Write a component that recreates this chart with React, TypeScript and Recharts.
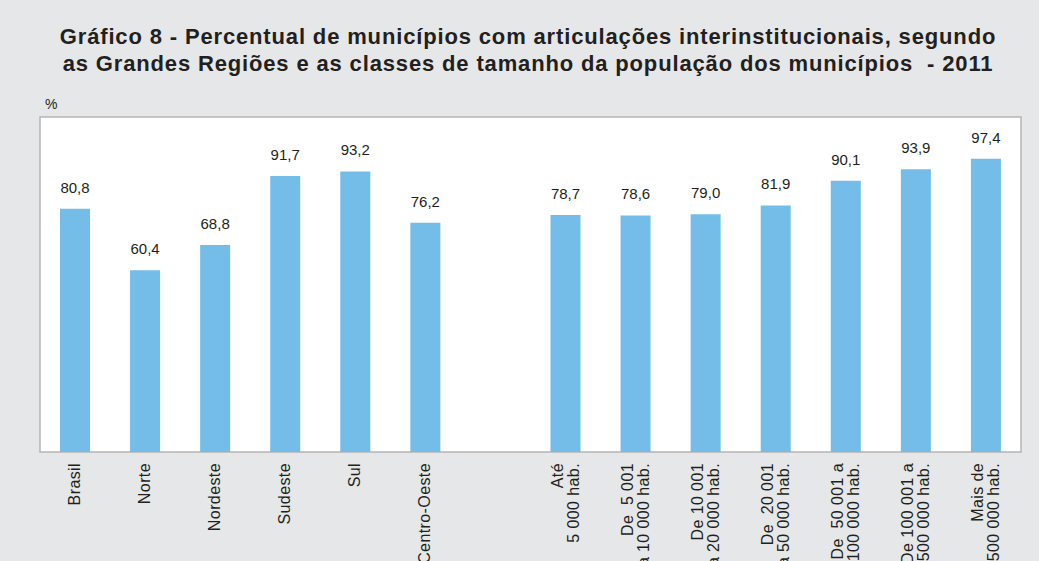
import React from "react";
import { BarChart, Bar, XAxis, YAxis, CartesianGrid, ReferenceArea, LabelList } from "recharts";

const categories: string[][] = [
  ["Brasil"],
  ["Norte"],
  ["Nordeste"],
  ["Sudeste"],
  ["Sul"],
  ["Centro-Oeste"],
  [],
  ["Até", "5 000 hab."],
  ["De  5 001", "a 10 000 hab."],
  ["De 10 001", "a 20 000 hab."],
  ["De  20 001", "a 50 000 hab."],
  ["De  50 001 a", "100 000 hab."],
  ["De 100 001 a", "500 000 hab."],
  ["Mais de", "500 000 hab."],
];
const values: (number | null)[] = [80.8, 60.4, 68.8, 91.7, 93.2, 76.2, null, 78.7, 78.6, 79.0, 81.9, 90.1, 93.9, 97.4];

const data = categories.map((lines, i) => ({ key: "c" + i, value: values[i] }));

const FONT = "'Liberation Sans', Arial, Helvetica, sans-serif";
const TEXT = "#231f20";

const Tick = (props: any) => {
  const { x, y, payload } = props;
  const idx = Number(String(payload.value).slice(1));
  const lines = categories[idx] || [];
  const n = lines.length;
  return (
    <g transform={`translate(${x},${y + 3})`}>
      {lines.map((l, j) => (
        <text
          key={j}
          transform={`translate(${(j - (n - 1) / 2) * 16 + 5},0) rotate(-90)`}
          textAnchor="end"
          fontSize={16}
          letterSpacing={0.4}
          fill={TEXT}
          fontFamily={FONT}
          style={{ whiteSpace: "pre" }}
        >
          {l}
        </text>
      ))}
    </g>
  );
};

const ValueLabel = (props: any) => {
  const { x, y, width, value } = props;
  if (value == null) return null;
  return (
    <text x={x + width / 2} y={y - 16} textAnchor="middle" fontSize={15} fill={TEXT} fontFamily={FONT}>
      {Number(value).toFixed(1).replace(".", ",")}
    </text>
  );
};

export default function App() {
  return (
    <div
      style={{
        position: "absolute",
        left: 0,
        top: 0,
        width: 1039,
        height: 561,
        background: "#e6e7e8",
        fontFamily: FONT,
        overflow: "hidden",
      }}
    >
      <div
        style={{
          position: "absolute",
          top: 23,
          left: 0,
          width: 1056,
          textAlign: "center",
          fontWeight: "bold",
          fontSize: 22,
          letterSpacing: 0.85,
          lineHeight: "27px",
          color: TEXT,
          whiteSpace: "nowrap",
        }}
      >
        Gráfico 8 - Percentual de municípios com articulações interinstitucionais, segundo
        <br />
        as Grandes Regiões e as classes de tamanho da população dos municípios&nbsp; - 2011
      </div>
      <div style={{ position: "absolute", left: 45, top: 96, fontSize: 14, color: TEXT }}>%</div>
      <div style={{ position: "absolute", left: 0, top: 0 }}>
        <BarChart
          width={1039}
          height={561}
          data={data}
          margin={{ top: 117, left: 40, right: 18, bottom: 79 }}
          barCategoryGap={0}
        >
          <CartesianGrid fill="#ffffff" fillOpacity={1} horizontal={false} vertical={false} />
          <YAxis hide domain={[0, 111.3]} type="number" allowDataOverflow />
          <XAxis
            dataKey="key"
            interval={0}
            tickLine={false}
            axisLine={false}
            height={30}
            tick={<Tick />}
          />
          <ReferenceArea x1="c0" x2="c13" y1={0} y2={111.3} fill="none" stroke="#b5b5b5" strokeWidth={1.5} ifOverflow="visible" />
          <Bar dataKey="value" fill="#74bde8" barSize={30} isAnimationActive={false}>
            <LabelList dataKey="value" content={<ValueLabel />} />
          </Bar>
        </BarChart>
      </div>
    </div>
  );
}
